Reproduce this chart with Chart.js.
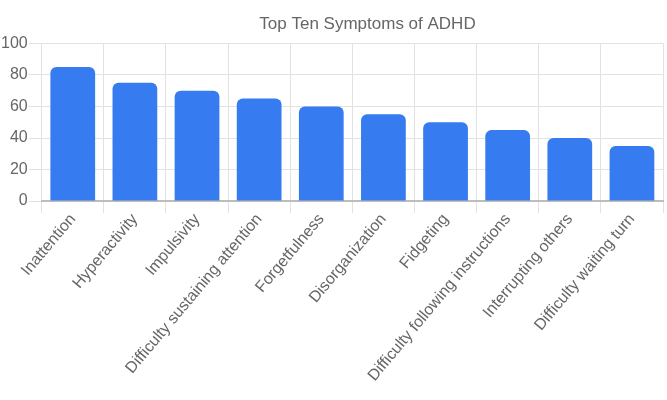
<!DOCTYPE html>
<html>
<head>
<meta charset="utf-8">
<script src="https://cdn.jsdelivr.net/npm/chart.js@4"></script>
<style>
  html, body { margin: 0; padding: 0; background: #fff; }
  #wrap { width: 667px; height: 400px; }
</style>
</head>
<body>
<div id="wrap"><canvas id="chart"></canvas></div>
<script>
const symptoms = ["Inattention", "Hyperactivity", "Impulsivity", "Difficulty sustaining attention",
  "Forgetfulness", "Disorganization", "Fidgeting", "Difficulty following instructions",
  "Interrupting others", "Difficulty waiting turn"];
const counts = [85, 75, 70, 65, 60, 55, 50, 45, 40, 35];
const yTicks = [0, 20, 40, 60, 80, 100];

Chart.defaults.font.family = "'Liberation Sans', Arial, sans-serif";
Chart.defaults.color = "#666";

// title sits a bit right of the canvas centre in the original
const titleShift = {
  id: "titleShift",
  afterLayout(chart) {
    if (chart.titleBlock) {
      chart.titleBlock.left += 36;
      chart.titleBlock.right += 36;
    }
  }
};

// bar chart
var ctx = document.getElementById("chart").getContext("2d");
var myChart = new Chart(ctx, {
  type: "bar",
  data: {
    labels: symptoms,
    datasets: [{
      label: "Count",
      data: counts,
      backgroundColor: "#367cf0",
      borderRadius: { topLeft: 6, topRight: 6 },
      borderSkipped: "bottom"
    }]
  },
  plugins: [titleShift],
  options: {
    responsive: true,
    maintainAspectRatio: false,
    animation: false,
    layout: { padding: { right: 4, bottom: 18 } },
    plugins: {
      legend: { display: false },
      tooltip: { enabled: false },
      title: {
        display: true,
        text: "Top Ten Symptoms of ADHD",
        font: { size: 17, weight: "normal" },
        color: "#666",
        padding: { top: 14, bottom: 9 }
      }
    },
    scales: {
      x: {
        grid: { color: "#e2e2e2", tickLength: 12, offset: true },
        border: { color: "#bdbdbd", width: 2 },
        ticks: { maxRotation: 50, minRotation: 50, font: { size: 16 }, padding: -3 }
      },
      y: {
        min: 0,
        max: 100,
        afterBuildTicks: (axis) => { axis.ticks = yTicks.map(v => ({ value: v })); },
        grid: { color: "#e2e2e2", tickLength: 13 },
        border: { display: false },
        ticks: { font: { size: 16 }, padding: 1 }
      }
    }
  }
});
</script>
</body>
</html>
